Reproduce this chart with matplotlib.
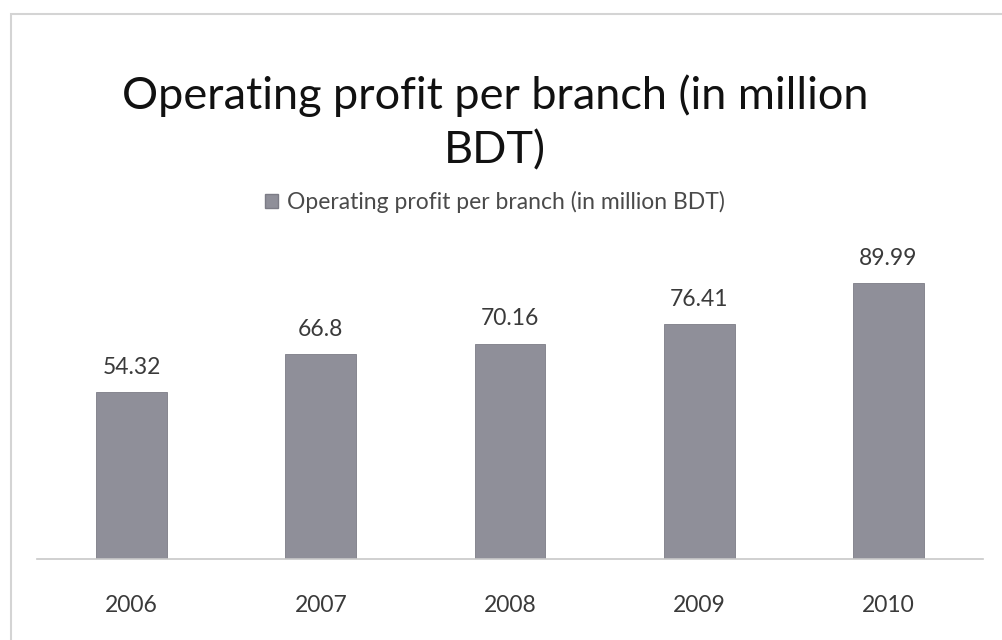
import matplotlib
matplotlib.use("Agg")
import matplotlib.pyplot as plt
from matplotlib.patches import Rectangle, Patch

years = ["2006", "2007", "2008", "2009", "2010"]
profit = [54.32, 66.8, 70.16, 76.41, 89.99]
value_labels = ["54.32", "66.8", "70.16", "76.41", "89.99"]
series_name = "Operating profit per branch (in million BDT)"
title_text = "Operating profit per branch (in million\nBDT)"

plt.rcParams["font.family"] = ["Lato", "DejaVu Sans"]

fig = plt.figure(figsize=(10.02, 6.4), dpi=100)
fig.patch.set_facecolor("white")

# light chart-area frame
fig.patches.append(Rectangle((11 / 1002, -0.01), 1.02, (640 - 14) / 640 + 0.01,
                             transform=fig.transFigure, fill=False,
                             edgecolor="#d4d4d4", linewidth=1.5))

ax = fig.add_axes([37 / 1002, (640 - 559) / 640, (983 - 37) / 1002, (559 - 252) / 640])
bar_color = "#8f8f99"
x = range(len(years))
bars = ax.bar(x, profit, width=0.375, color=bar_color, edgecolor="#7c7c86", linewidth=0.6)
ax.set_xlim(-0.5, len(years) - 0.5)
ax.set_ylim(0, 100)

for b, lab in zip(bars, value_labels):
    ax.text(b.get_x() + b.get_width() / 2, b.get_height() + 5.9, lab,
            ha="center", va="baseline", fontsize=16.5, color="#3a3a3a")

for s in ["top", "right", "left"]:
    ax.spines[s].set_visible(False)
ax.spines["bottom"].set_color("#c8c8c8")
ax.spines["bottom"].set_linewidth(1.2)
ax.set_yticks([])
ax.set_xticks(list(x))
ax.set_xticklabels(years, fontsize=16.5, color="#3a3a3a")
ax.tick_params(axis="x", length=0, pad=26)

fig.text(0.494, (640 - 74) / 640, title_text, ha="center", va="top",
         fontsize=32.5, color="#111111", linespacing=1.42)

handle = Patch(facecolor=bar_color, edgecolor="#7c7c86")
fig.legend([handle], [series_name], loc="center", bbox_to_anchor=(0.494, (640 - 202) / 640),
           frameon=False, fontsize=16.5, handlelength=0.55, handleheight=0.55,
           handletextpad=0.4, labelcolor="#4a4a4a")

fig.savefig("out.png", dpi=100)
